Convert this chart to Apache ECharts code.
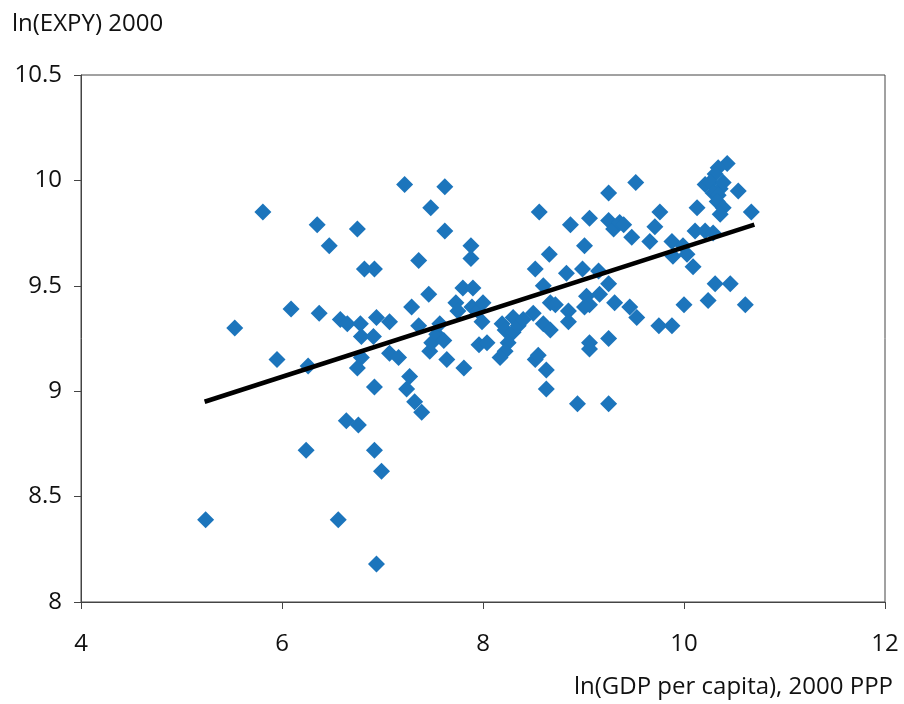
<!DOCTYPE html>
<html>
<head>
<meta charset="utf-8">
<script src="https://cdn.jsdelivr.net/npm/echarts@6/dist/echarts.min.js"></script>
<style>
  html, body { margin: 0; padding: 0; background: #fff; }
  #chart { width: 904px; height: 704px; }
</style>
</head>
<body>
<div id="chart"></div>
<script>
  // ln(GDP per capita) per country
  const gdp = [
    5.24, 5.53, 5.81, 5.95, 6.09, 6.24, 6.26, 6.35, 6.37, 6.47,
    6.56, 6.58, 6.64, 6.65, 6.75, 6.76, 6.78, 6.79, 6.79, 6.75,
    6.82, 6.92, 6.94, 6.91, 6.92, 6.92, 6.99, 6.94, 7.07, 7.07,
    7.16, 7.22, 7.24, 7.27, 7.29, 7.32, 7.36, 7.36, 7.39, 7.46,
    7.48, 7.47, 7.49, 7.54, 7.57, 7.61, 7.62, 7.62, 7.64, 7.73,
    7.75, 7.80, 7.81, 7.88, 7.88, 7.90, 7.89, 7.95, 8.00, 7.99,
    7.96, 8.04, 8.19, 8.30, 8.22, 8.30, 8.25, 8.22, 8.17, 8.35,
    8.40, 8.50, 8.52, 8.52, 8.55, 8.56, 8.60, 8.60, 8.63, 8.63,
    8.66, 8.67, 8.72, 8.67, 8.83, 8.85, 8.85, 8.87, 8.94, 8.99,
    9.01, 9.03, 9.06, 9.01, 9.06, 9.06, 9.06, 9.15, 9.16, 9.25,
    9.25, 9.30, 9.36, 9.40, 9.25, 9.25, 9.25, 9.31, 9.46, 9.48,
    9.52, 9.53, 9.66, 9.71, 9.76, 9.75, 9.88, 9.89, 9.88, 9.99,
    10.00, 10.03, 10.09, 10.11, 10.13, 10.21, 10.24, 10.29, 10.31, 10.46,
    10.61, 10.43, 10.34, 10.31, 10.21, 10.26, 10.36, 10.39, 10.54, 10.29,
    10.34, 10.33, 10.39, 10.36, 10.67
  ]
  // ln(EXPY) 2000, same order
  const expy = [
    8.39, 9.30, 9.85, 9.15, 9.39, 8.72, 9.12, 9.79, 9.37, 9.69,
    8.39, 9.34, 8.86, 9.32, 9.77, 8.84, 9.32, 9.26, 9.16, 9.11,
    9.58, 9.58, 9.35, 9.26, 9.02, 8.72, 8.62, 8.18, 9.33, 9.18,
    9.16, 9.98, 9.01, 9.07, 9.40, 8.95, 9.62, 9.31, 8.90, 9.46,
    9.87, 9.19, 9.23, 9.27, 9.32, 9.24, 9.97, 9.76, 9.15, 9.42,
    9.38, 9.49, 9.11, 9.69, 9.63, 9.49, 9.40, 9.38, 9.42, 9.33,
    9.22, 9.23, 9.32, 9.35, 9.29, 9.28, 9.23, 9.19, 9.16, 9.31,
    9.34, 9.37, 9.58, 9.15, 9.17, 9.85, 9.50, 9.32, 9.10, 9.01,
    9.65, 9.42, 9.41, 9.29, 9.56, 9.38, 9.33, 9.79, 8.94, 9.58,
    9.69, 9.45, 9.41, 9.40, 9.82, 9.23, 9.20, 9.57, 9.46, 9.94,
    9.81, 9.77, 9.80, 9.79, 9.51, 9.25, 8.94, 9.42, 9.40, 9.73,
    9.99, 9.35, 9.71, 9.78, 9.85, 9.31, 9.71, 9.64, 9.31, 9.69,
    9.41, 9.65, 9.59, 9.76, 9.87, 9.76, 9.43, 9.75, 9.51, 9.51,
    9.41, 10.08, 10.06, 10.03, 9.98, 9.99, 9.96, 9.99, 9.95, 9.94,
    9.93, 9.90, 9.87, 9.84, 9.85
  ]
  // fitted line end points
  const trendX = [5.23, 10.70]
  const trendY = [8.95, 9.79]

  const xTicks = { min: 4, max: 12, step: 2 }
  const yTicks = { min: 8, max: 10.5, step: 0.5 }

  const font = 'Open Sans'
  const points = gdp.map((g, i) => [g, expy[i]])
  const trend = trendX.map((t, i) => [t, trendY[i]])

  const chart = echarts.init(document.getElementById('chart'))
  chart.setOption({
    animation: false,
    textStyle: { fontFamily: font },
    grid: {
      left: 81, right: 19, top: 75, bottom: 102,
      show: true, borderColor: '#444', borderWidth: 1
    },
    xAxis: {
      type: 'value',
      min: xTicks.min, max: xTicks.max, interval: xTicks.step,
      axisLine: { show: true, lineStyle: { color: '#444', width: 1 } },
      axisTick: { show: true, length: 7, lineStyle: { color: '#444' } },
      axisLabel: { margin: 30, fontSize: 24, color: '#111', fontFamily: font },
      splitLine: { show: false }
    },
    yAxis: {
      type: 'value',
      min: yTicks.min, max: yTicks.max, interval: yTicks.step,
      axisLine: { show: true, lineStyle: { color: '#444', width: 1 } },
      axisTick: { show: true, length: 7, lineStyle: { color: '#444' } },
      axisLabel: { margin: 19, fontSize: 24, color: '#111', fontFamily: font },
      splitLine: { show: false }
    },
    graphic: [
      {
        type: 'text', left: 12, top: 12,
        style: { text: 'ln(EXPY) 2000', font: '24px "Open Sans"', fill: '#111' }
      },
      {
        type: 'text', right: 11, top: 675,
        style: { text: 'ln(GDP per capita), 2000 PPP', font: '24px "Open Sans"', fill: '#111' }
      }
    ],
    series: [
      {
        type: 'scatter',
        symbol: 'diamond',
        symbolSize: 17,
        itemStyle: { color: '#1c75bc', opacity: 1 },
        data: points,
        z: 2
      },
      {
        type: 'line',
        data: trend,
        symbol: 'none',
        lineStyle: { color: '#000', width: 4.5 },
        z: 3
      }
    ]
  })
</script>
</body>
</html>
